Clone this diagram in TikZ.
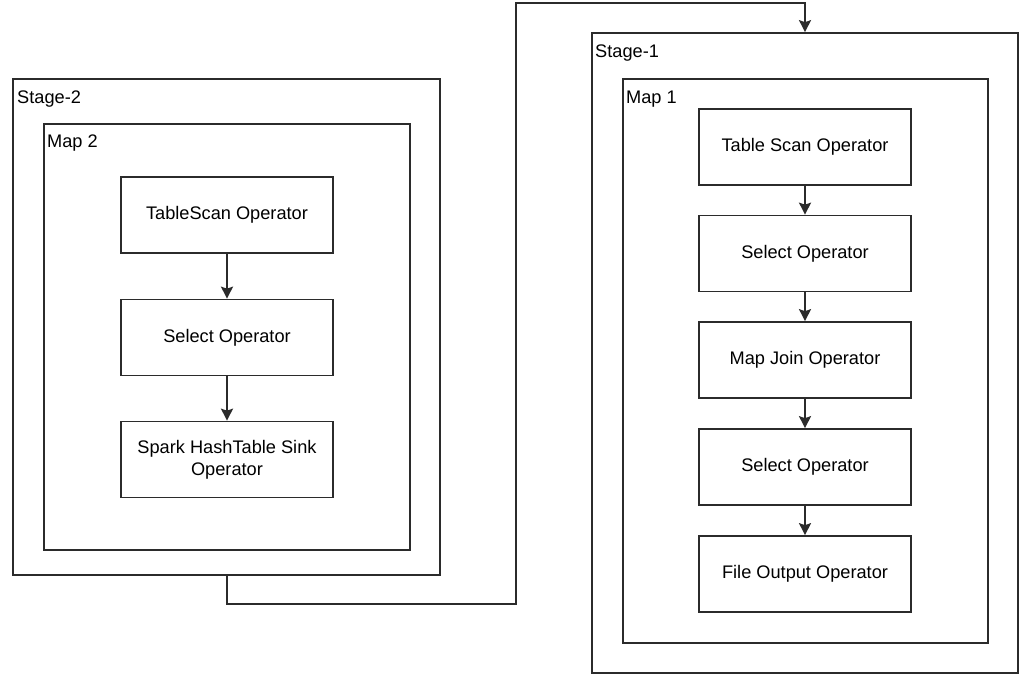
\documentclass[tikz,border=0pt]{standalone}
\usepackage{fontspec}
\setmainfont{Liberation Sans}
\usetikzlibrary{arrows.meta}
\definecolor{ln}{HTML}{2B2B2B}
\begin{document}
\begin{tikzpicture}[x=1pt,y=-1pt,
  frame/.style={draw=ln,line width=1.7pt,rectangle,inner sep=0pt},
  op/.style={draw=ln,line width=1.7pt,rectangle,inner sep=0pt,minimum width=212pt,minimum height=76pt,align=center,font=\fontsize{18.2}{22}\selectfont,text=black},
  lbl/.style={anchor=north west,inner sep=0pt,font=\fontsize{18.2}{22}\selectfont,text=black},
  flow/.style={draw=ln,line width=1.7pt,-{Stealth[length=12pt,width=12pt,inset=2pt]}},
  link/.style={draw=ln,line width=1.7pt}]
\useasboundingbox (0,0) rectangle (1026,677);
\fill[white] (0,0) rectangle (1026,677);
% Stage-2
\node[frame,minimum width=427pt,minimum height=496pt] (s2) at (226.5,327) {};
\node[frame,minimum width=366pt,minimum height=426pt] (m2) at (227,337) {};
\node[lbl] (s2l) at (17,91) {Stage-2};
\node[lbl] (m2l) at (47,135) {Map 2};
\node[op] (ts2) at (227,215) {TableScan Operator};
\node[op] (sel2) at (227,337.5) {Select Operator};
\node[op] (sink) at (227,459.5) {Spark HashTable Sink\\Operator};
\draw[flow] (ts2) -- (sel2);
\draw[flow] (sel2) -- (sink);
% Stage-1
\node[frame,minimum width=426pt,minimum height=640pt] (s1) at (805,353) {};
\node[frame,minimum width=365pt,minimum height=564pt] (m1) at (805.5,361) {};
\node[lbl] (s1l) at (595,45) {Stage-1};
\node[lbl] (m1l) at (626,91) {Map 1};
\node[op] (ts1) at (805,147) {Table Scan Operator};
\node[op] (sel1) at (805,253.5) {Select Operator};
\node[op] (mj) at (805,360) {Map Join Operator};
\node[op] (sel3) at (805,467) {Select Operator};
\node[op] (fo) at (805,574) {File Output Operator};
\draw[flow] (ts1) -- (sel1);
\draw[flow] (sel1) -- (mj);
\draw[flow] (mj) -- (sel3);
\draw[flow] (sel3) -- (fo);
% connector between stages
\coordinate (c1) at (516,604);
\coordinate (c2) at (516,3);
\draw[flow] (ts2 |- s2.south) |- (c1) -- (c2) -| (ts1 |- s1.north);
\end{tikzpicture}
\end{document}
